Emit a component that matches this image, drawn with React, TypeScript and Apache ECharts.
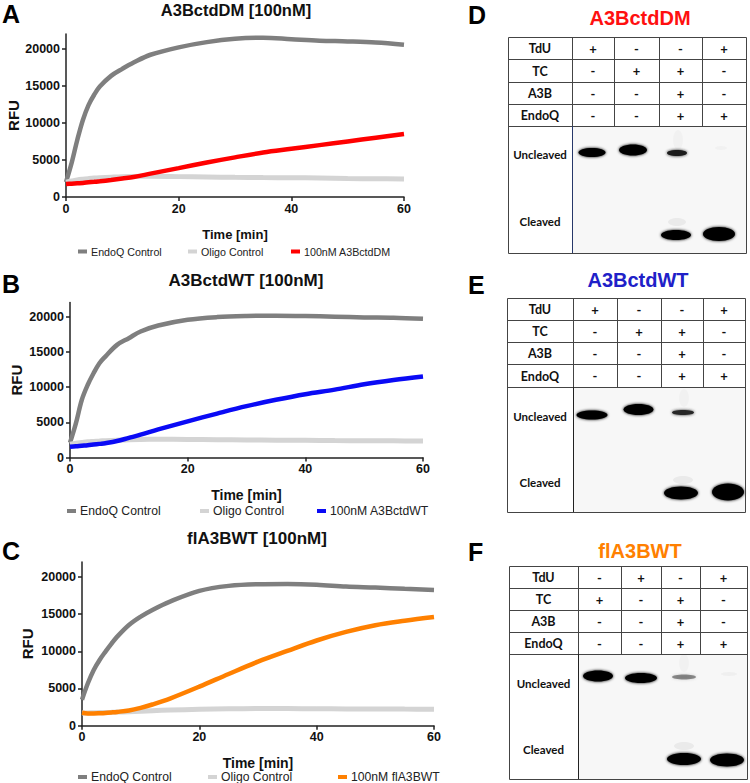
import React, { useEffect, useRef } from 'react';
import * as echarts from 'echarts';

// ---------- data ----------
const timeMin = [0, 1, 2, 3, 4, 5, 6, 8, 10, 12, 15, 20, 25, 30, 35, 40, 45, 50, 55, 60];

const endoqA = [2000, 4600, 7700, 10400, 12400, 13800, 14900, 16350, 17300, 18150, 19200, 20200, 20900, 21350, 21500, 21300, 21100, 21000, 20850, 20550];
const oligoA = [2000, 2150, 2300, 2400, 2480, 2550, 2600, 2680, 2750, 2780, 2800, 2750, 2700, 2650, 2620, 2600, 2560, 2500, 2460, 2430];
const dmA = [1750, 1800, 1850, 1900, 1980, 2050, 2120, 2300, 2500, 2700, 3150, 3900, 4650, 5350, 6000, 6500, 7000, 7500, 8000, 8500];

const endoqB = [2100, 4860, 8180, 10300, 11970, 13400, 14340, 16000, 16950, 17900, 18750, 19560, 19940, 20100, 20150, 20100, 20000, 19900, 19850, 19700];
const oligoB = [1900, 2050, 2150, 2250, 2300, 2350, 2400, 2480, 2550, 2580, 2600, 2580, 2550, 2500, 2480, 2450, 2420, 2400, 2380, 2350];
const wtB = [1540, 1600, 1680, 1750, 1850, 1950, 2050, 2350, 2800, 3250, 4000, 5150, 6250, 7300, 8200, 9000, 9650, 10400, 11000, 11500];

const endoqC = [3500, 5700, 7490, 8840, 9950, 10990, 11970, 13540, 14660, 15560, 16680, 18120, 18790, 19020, 19050, 18950, 18700, 18560, 18390, 18250];
const oligoC = [1700, 1720, 1740, 1760, 1780, 1800, 1830, 1880, 1950, 2020, 2100, 2200, 2270, 2300, 2300, 2280, 2260, 2250, 2230, 2220];
const flC = [1750, 1650, 1650, 1680, 1720, 1780, 1850, 2050, 2400, 2850, 3650, 5250, 6950, 8600, 10050, 11450, 12600, 13500, 14100, 14600];

const yTicks = [0, 5000, 10000, 15000, 20000];
const xTicks = [0, 20, 40, 60];

const rowLabels = ['TdU', 'TC', 'A3B', 'EndoQ'];
const signsD = [['+', '-', '-', '+'], ['-', '+', '+', '-'], ['-', '-', '+', '-'], ['-', '-', '+', '+']];
const signsE = [['+', '-', '-', '+'], ['-', '+', '+', '-'], ['-', '-', '+', '-'], ['-', '-', '+', '+']];
const signsF = [['-', '+', '-', '+'], ['+', '-', '+', '-'], ['-', '-', '+', '-'], ['-', '-', '+', '+']];

// ---------- layout ----------
const FONT = "'Liberation Sans', Arial, sans-serif";
const GEL_FONT = "Lato, 'Open Sans', sans-serif";

const plots = [
  {
    letter: 'A', letterY: 14, title: 'A3BctdDM [100nM]', titleX: 236, titleY: 10, titleSize: 16.5,
    grid: { left: 66, top: 34, width: 338, height: 163 }, rfuGap: 41, timeSize: 13, timeGap: 31,
    legendY: 248, legendXs: [73, 183, 286], legendSize: 10.7,
    endoq: endoqA, oligo: oligoA, sample: dmA, sampleName: '100nM A3BctdDM', color: '#ff0000',
  },
  {
    letter: 'B', letterY: 284, title: 'A3BctdWT [100nM]', titleX: 246, titleY: 280, titleSize: 17,
    grid: { left: 70, top: 302.6, width: 353, height: 155 }, rfuGap: 46, timeSize: 14, timeGap: 30,
    legendY: 507, legendXs: [62, 195, 312], legendSize: 12.2,
    endoq: endoqB, oligo: oligoB, sample: wtB, sampleName: '100nM A3BctdWT', color: '#0a0af5',
  },
  {
    letter: 'C', letterY: 551, title: 'flA3BWT [100nM]', titleX: 257, titleY: 538, titleSize: 17,
    grid: { left: 82, top: 562, width: 352, height: 163.7 }, rfuGap: 47, timeSize: 14, timeGap: 30,
    legendY: 773, legendXs: [73, 203, 333], legendSize: 12.2,
    endoq: endoqC, oligo: oligoC, sample: flC, sampleName: '100nM flA3BWT', color: '#ff8000',
  },
];

const gels = [
  {
    letter: 'D', letterY: 15, title: 'A3BctdDM', titleColor: '#ff1010', titleX: 640, titleY: 18,
    left: 508, right: 746, rows: [37, 59, 82, 104, 126], bottom: 253, cols: [572, 614, 659, 702],
    divColor: '#27386a', signs: signsD, uncY: 154, clvY: 221,
    bands: [
      { cx: 592, cy: 152.5, rx: 13.5, ry: 4.5, c: '#000' },
      { cx: 633, cy: 150, rx: 14, ry: 5.5, c: '#000' },
      { cx: 678, cy: 140, rx: 5, ry: 10, c: 'rgba(0,0,0,0.025)', f: 1 },
      { cx: 677, cy: 153, rx: 10, ry: 3, c: '#1a1a1a' },
      { cx: 721, cy: 148, rx: 6, ry: 2, c: 'rgba(0,0,0,0.025)', f: 1 },
      { cx: 677, cy: 222, rx: 9, ry: 4, c: 'rgba(0,0,0,0.05)', f: 1 },
      { cx: 676, cy: 235, rx: 15, ry: 5, c: '#000' },
      { cx: 719, cy: 234, rx: 16, ry: 7, c: '#000' },
    ],
  },
  {
    letter: 'E', letterY: 285, title: 'A3BctdWT', titleColor: '#2020c8', titleX: 638, titleY: 280,
    left: 507, right: 745, rows: [298, 320, 342, 364, 387], bottom: 512, cols: [573, 617, 661, 703],
    divColor: '#222', signs: signsE, uncY: 416, clvY: 482,
    bands: [
      { cx: 592, cy: 415, rx: 15.5, ry: 4.5, c: '#000' },
      { cx: 638.5, cy: 409.5, rx: 15, ry: 5.5, c: '#000' },
      { cx: 684, cy: 398, rx: 5, ry: 9, c: 'rgba(0,0,0,0.025)', f: 1 },
      { cx: 683, cy: 412.5, rx: 11, ry: 2.5, c: '#262626' },
      { cx: 683, cy: 480, rx: 10, ry: 4, c: 'rgba(0,0,0,0.05)', f: 1 },
      { cx: 681, cy: 493, rx: 17, ry: 6.5, c: '#000' },
      { cx: 728, cy: 492, rx: 16, ry: 8.5, c: '#000' },
    ],
  },
  {
    letter: 'F', letterY: 552, title: 'flA3BWT', titleColor: '#ff8000', titleX: 640, titleY: 551,
    left: 509, right: 747, rows: [566, 588, 610, 632, 654], bottom: 779, cols: [578, 621, 661, 700],
    divColor: '#222', signs: signsF, uncY: 683, clvY: 749,
    bands: [
      { cx: 598, cy: 676, rx: 15, ry: 5.5, c: '#000' },
      { cx: 641, cy: 678, rx: 16, ry: 5, c: '#000' },
      { cx: 684, cy: 663, rx: 5, ry: 9, c: 'rgba(0,0,0,0.025)', f: 1 },
      { cx: 684, cy: 677, rx: 12, ry: 2.5, c: 'rgba(0,0,0,0.4)' },
      { cx: 729, cy: 674, rx: 8, ry: 2, c: 'rgba(0,0,0,0.03)', f: 1 },
      { cx: 684, cy: 746, rx: 10, ry: 4, c: 'rgba(0,0,0,0.05)', f: 1 },
      { cx: 684, cy: 759, rx: 17, ry: 6, c: '#000' },
      { cx: 727, cy: 760, rx: 17, ry: 6.5, c: '#000' },
    ],
  },
];

function txt(x: number, y: number, text: string, size: number, color: string, weight = 'bold', family = FONT, align = 'center') {
  return {
    type: 'text', x, y, silent: true,
    style: { text, fill: color, fontSize: size, fontWeight: weight, fontFamily: family, align, verticalAlign: 'middle' },
  };
}
function ln(x1: number, y1: number, x2: number, y2: number, color = '#444', w = 1) {
  return { type: 'line', silent: true, shape: { x1, y1, x2, y2 }, style: { stroke: color, lineWidth: w } };
}

function gelElements(g: any) {
  const els: any[] = [];
  els.push(txt(468, g.letterY, g.letter, 25, '#000', 'bold', FONT, 'left'));
  els.push(txt(g.titleX, g.titleY, g.title, 20, g.titleColor, 'bold'));
  // gel area
  els.push({ type: 'rect', silent: true, shape: { x: g.cols[0], y: g.rows[4], width: g.right - g.cols[0], height: g.bottom - g.rows[4] }, style: { fill: '#f7f7f7' } });
  g.bands.forEach((b: any) => {
    els.push({
      type: 'ellipse', silent: true, shape: { cx: b.cx, cy: b.cy, rx: b.rx, ry: b.ry },
      style: b.f ? { fill: b.c } : { fill: b.c, shadowBlur: 3, shadowColor: b.c },
    });
  });
  // table lines
  const r = g.rows;
  els.push({ type: 'rect', silent: true, shape: { x: g.left + 0.5, y: r[0] + 0.5, width: g.right - g.left, height: g.bottom - r[0] }, style: { fill: 'none', stroke: '#444', lineWidth: 1 } });
  for (let i = 1; i <= 4; i++) els.push(ln(g.left, r[i] + 0.5, g.right, r[i] + 0.5));
  els.push(ln(g.cols[0] + 0.5, r[0], g.cols[0] + 0.5, r[4], '#444'));
  els.push(ln(g.cols[0] + 0.5, r[4], g.cols[0] + 0.5, g.bottom, g.divColor));
  for (let j = 1; j < g.cols.length; j++) els.push(ln(g.cols[j] + 0.5, r[0], g.cols[j] + 0.5, r[4]));
  const laneEdges = [...g.cols, g.right];
  for (let i = 0; i < 4; i++) {
    const cy = (r[i] + r[i + 1]) / 2 + 0.5;
    els.push(txt((g.left + g.cols[0]) / 2, cy, rowLabels[i], 12.5, '#111', 'bold', GEL_FONT));
    for (let j = 0; j < 4; j++) {
      els.push(txt((laneEdges[j] + laneEdges[j + 1]) / 2, cy, g.signs[i][j], 13, '#111', 'bold', GEL_FONT));
    }
  }
  els.push(txt((g.left + g.cols[0]) / 2, g.uncY, 'Uncleaved', 11.5, '#111', 'bold', GEL_FONT));
  els.push(txt((g.left + g.cols[0]) / 2, g.clvY, 'Cleaved', 11.5, '#111', 'bold', GEL_FONT));
  return els;
}

function buildOption() {
  const grids: any[] = [], xAxes: any[] = [], yAxes: any[] = [], series: any[] = [], legends: any[] = [], graphics: any[] = [];
  plots.forEach((p, i) => {
    grids.push({ ...p.grid, containLabel: false });
    xAxes.push({
      type: 'value', gridIndex: i, min: 0, max: 60, interval: 20,
      axisLine: { show: true, lineStyle: { color: '#222', width: 1.5 } },
      axisTick: { show: true, length: 4, lineStyle: { color: '#222', width: 1.5 }, customValues: xTicks },
      axisLabel: { customValues: xTicks, formatter: (v: number) => String(v), fontSize: 12.5, fontWeight: 'bold', color: '#111', margin: 5, fontFamily: FONT },
      splitLine: { show: false },
      name: 'Time [min]', nameLocation: 'middle', nameGap: p.timeGap,
      nameTextStyle: { fontSize: p.timeSize, fontWeight: 'bold', color: '#111', fontFamily: FONT },
    });
    yAxes.push({
      type: 'value', gridIndex: i, min: 0, max: 22000, interval: 5000,
      axisLine: { show: true, lineStyle: { color: '#222', width: 1.5 } },
      axisTick: { show: true, length: 4, lineStyle: { color: '#222', width: 1.5 }, customValues: yTicks },
      axisLabel: { customValues: yTicks, formatter: (v: number) => String(v), fontSize: 12.5, fontWeight: 'bold', color: '#111', margin: 6, fontFamily: FONT },
      splitLine: { show: false },
      name: 'RFU', nameLocation: 'middle', nameGap: p.rfuGap,
      nameTextStyle: { fontSize: 15, fontWeight: 'bold', color: '#111', fontFamily: FONT },
    });
    const defs = [
      { name: 'EndoQ Control', data: p.endoq, color: '#7f7f7f' },
      { name: 'Oligo Control', data: p.oligo, color: '#d4d4d4' },
      { name: p.sampleName, data: p.sample, color: p.color },
    ];
    defs.forEach((d, k) => {
      series.push({
        type: 'line', name: d.name, xAxisIndex: i, yAxisIndex: i,
        data: timeMin.map((t, n) => [t, d.data[n]]),
        showSymbol: false, smooth: 0.35, color: d.color,
        lineStyle: { width: k === 1 ? 5 : 4.5, color: d.color }, z: 2 + k,
      });
      legends.push({
        data: [d.name], left: p.legendXs[k], top: p.legendY - 7, icon: 'rect', itemWidth: 9, itemHeight: 4,
        itemGap: 5, selectedMode: false,
        textStyle: { fontSize: p.legendSize, color: '#222', fontFamily: FONT, padding: [0, 0, 0, -1] },
      });
    });
    graphics.push(txt(2, p.letterY, p.letter, 25, '#000', 'bold', FONT, 'left'));
    graphics.push(txt(p.titleX, p.titleY, p.title, p.titleSize, '#111', 'bold'));
  });
  gels.forEach((g) => graphics.push(...gelElements(g)));
  return {
    animation: false,
    backgroundColor: '#fff',
    textStyle: { fontFamily: FONT },
    grid: grids, xAxis: xAxes, yAxis: yAxes, series, legend: legends,
    graphic: { elements: graphics },
  };
}

export default function App() {
  const ref = useRef<HTMLDivElement>(null);
  useEffect(() => {
    document.body.style.margin = '0';
    const chart = echarts.init(ref.current!, null, { renderer: 'svg' });
    chart.setOption(buildOption() as any);
    return () => chart.dispose();
  }, []);
  return <div ref={ref} style={{ width: 750, height: 783 }} />;
}
